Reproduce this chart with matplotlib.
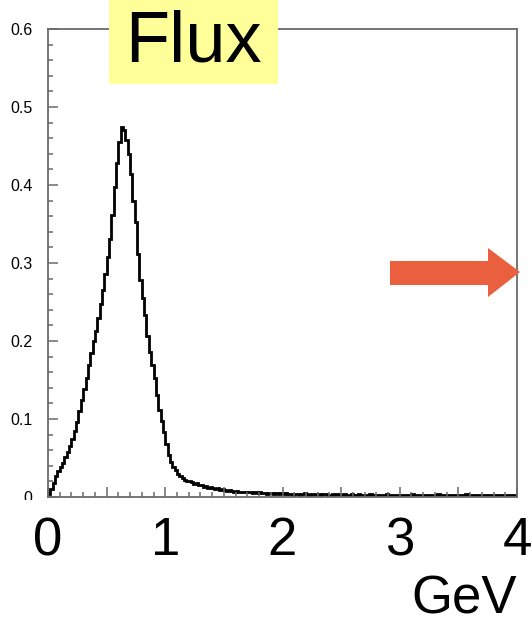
import matplotlib
matplotlib.use("Agg")
import matplotlib.pyplot as plt
import numpy as np
from matplotlib.patches import Rectangle, Polygon
from matplotlib.ticker import MultipleLocator
from matplotlib.transforms import Bbox, TransformedBbox

plt.rcParams['font.family'] = ['Liberation Sans', 'DejaVu Sans']

# flux histogram, 200 bins of 0.02 GeV from 0 to 4 GeV
bin_width = 0.02
flux = [
    0.004, 0.010, 0.018, 0.027, 0.033, 0.038, 0.044, 0.051, 0.058, 0.066,
    0.074, 0.084, 0.096, 0.110, 0.124, 0.139, 0.153, 0.169, 0.185, 0.200,
    0.213, 0.230, 0.247, 0.266, 0.286, 0.308, 0.331, 0.362, 0.398, 0.428,
    0.455, 0.474, 0.470, 0.458, 0.440, 0.414, 0.380, 0.352, 0.312, 0.278,
    0.255, 0.233, 0.207, 0.186, 0.169, 0.152, 0.131, 0.112, 0.098, 0.083,
    0.068, 0.054, 0.045, 0.038, 0.034, 0.029, 0.027, 0.025, 0.022, 0.021,
    0.020, 0.019, 0.017, 0.018, 0.015, 0.016, 0.013, 0.014, 0.012, 0.013,
    0.011, 0.010, 0.011, 0.009, 0.010, 0.009, 0.008, 0.009, 0.008, 0.007,
    0.008, 0.007, 0.007, 0.006, 0.007, 0.006, 0.006, 0.005, 0.006, 0.005,
    0.006, 0.005, 0.005, 0.004, 0.005, 0.005, 0.004, 0.005, 0.004, 0.005,
    0.004, 0.005, 0.004, 0.004, 0.003, 0.004, 0.004, 0.003, 0.004, 0.005,
    0.004, 0.003, 0.004, 0.004, 0.003, 0.004, 0.003, 0.004, 0.004, 0.003,
    0.003, 0.004, 0.003, 0.004, 0.003, 0.003, 0.004, 0.003, 0.003, 0.004,
    0.003, 0.003, 0.004, 0.003, 0.002, 0.003, 0.003, 0.004, 0.003, 0.003,
    0.003, 0.002, 0.003, 0.003, 0.004, 0.003, 0.003, 0.002, 0.003, 0.003,
    0.003, 0.003, 0.002, 0.003, 0.003, 0.004, 0.003, 0.002, 0.003, 0.003,
    0.002, 0.003, 0.003, 0.003, 0.002, 0.003, 0.004, 0.003, 0.003, 0.002,
    0.003, 0.003, 0.002, 0.003, 0.003, 0.002, 0.003, 0.003, 0.004, 0.003,
    0.003, 0.002, 0.003, 0.003, 0.002, 0.003, 0.003, 0.002, 0.003, 0.003,
    0.002, 0.003, 0.003, 0.002, 0.003, 0.003, 0.002, 0.003, 0.002, 0.003,
]
x_ticks = [0, 0.5, 1, 1.5, 2, 2.5, 3, 3.5, 4]
x_tick_labels = ['0', '', '1', '', '2', '', '3', '', '4']
y_ticks = [0, 0.1, 0.2, 0.3, 0.4, 0.5, 0.6]
y_tick_labels = ['0', '0.1', '0.2', '0.3', '0.4', '0.5', '0.6']

W, H = 532, 624
fig = plt.figure(figsize=(W / 100, H / 100), dpi=100)
ax = fig.add_axes([48 / W, 1 - 497 / H, (517 - 48) / W, (497 - 29) / H])

edges = np.arange(len(flux) + 1) * bin_width
ax.stairs(flux, edges, baseline=None, color='black', lw=2.0)

ax.set_xlim(0, 4)
ax.set_ylim(0, 0.6)
frame = '#6a6a6a'
for s in ax.spines.values():
    s.set_color(frame)
    s.set_linewidth(1.3)

ax.set_xticks(x_ticks)
ax.set_xticklabels(x_tick_labels, fontsize=38)
ax.xaxis.set_minor_locator(MultipleLocator(0.1))
ax.set_yticks(y_ticks)
ax.set_yticklabels(y_tick_labels, fontsize=11.5)
ax.yaxis.set_minor_locator(MultipleLocator(0.02))
ax.tick_params(axis='x', which='major', direction='in', length=7, width=1.1,
               color=frame, pad=14, top=False)
ax.tick_params(axis='y', which='major', direction='in', length=7.5, width=1.1,
               color=frame, pad=11, right=False)
ax.tick_params(which='minor', direction='in', length=3.8, width=1.1,
               color=frame, top=False, right=False)

# the "0" on the y axis is cut just below the axis line
zero_lbl = ax.get_yticklabels()[0]
zero_lbl.set_clip_on(True)
zero_lbl.set_clip_box(TransformedBbox(Bbox.from_extents(0, 1 - 500 / H, 1, 1),
                                      fig.transFigure))

fig.text(517 / W, 1 - 613 / H, 'GeV', ha='right', va='baseline', fontsize=38)

# title box
fig.add_artist(Rectangle((109 / W, 1 - 84 / H), (278 - 109) / W, 84 / H,
                         transform=fig.transFigure, facecolor='#ffff99',
                         edgecolor='none', zorder=5))
fig.text(193 / W, 1 - 62 / H, 'Flux', ha='center', va='baseline',
         fontsize=52, zorder=6)

# arrow on the right edge
arrow_px = [(390, 261), (488, 261), (488, 248), (520, 272),
            (488, 297), (488, 285), (390, 285)]
fig.add_artist(Polygon([(px / W, 1 - py / H) for px, py in arrow_px],
                       closed=True, transform=fig.transFigure,
                       facecolor='#ea603e', edgecolor='none', zorder=5))

fig.savefig('out.png', dpi=100)
